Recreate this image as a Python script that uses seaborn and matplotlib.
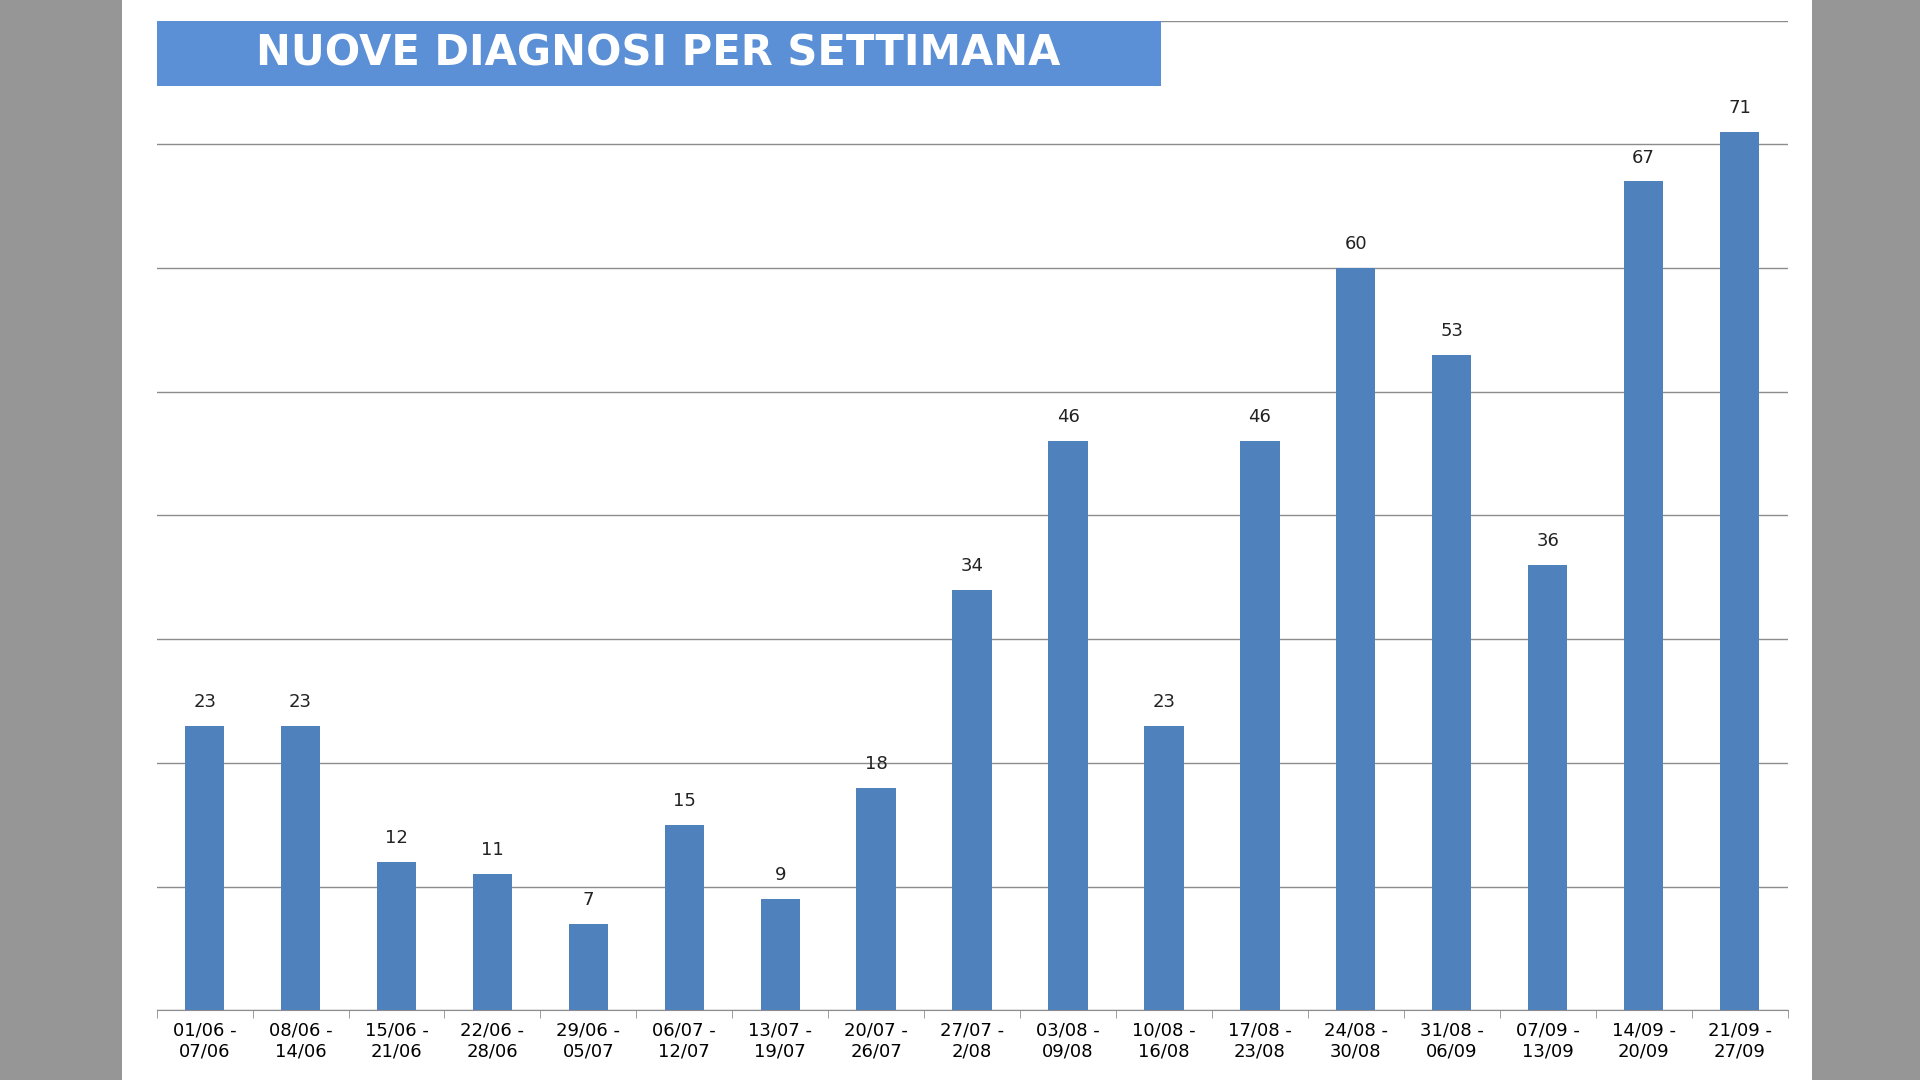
import matplotlib
matplotlib.use('Agg')
import matplotlib.pyplot as plt
import seaborn as sns
import pandas as pd
from matplotlib.patches import Rectangle

# dati settimanali
settimane = ['01/06 -\n07/06', '08/06 -\n14/06', '15/06 -\n21/06', '22/06 -\n28/06',
             '29/06 -\n05/07', '06/07 -\n12/07', '13/07 -\n19/07', '20/07 -\n26/07',
             '27/07 -\n2/08', '03/08 -\n09/08', '10/08 -\n16/08', '17/08 -\n23/08',
             '24/08 -\n30/08', '31/08 -\n06/09', '07/09 -\n13/09', '14/09 -\n20/09',
             '21/09 -\n27/09']
diagnosi = [23, 23, 12, 11, 7, 15, 9, 18, 34, 46, 23, 46, 60, 53, 36, 67, 71]

df = pd.DataFrame({'settimana': settimane, 'diagnosi': diagnosi})

fig = plt.figure(figsize=(19.2, 10.8), dpi=100)
fig.patch.set_facecolor('#969696')
# pannello bianco dietro al grafico
fig.patches.append(Rectangle((0.0638, 0), 0.8802, 1, transform=fig.transFigure,
                             facecolor='white', edgecolor='none', zorder=-5))

ax = fig.add_axes([0.0816, 0.0646, 0.8494, 0.9164])
ax.set_zorder(1)
ax.set_facecolor('none')
sns.barplot(data=df, x='settimana', y='diagnosi', color='#4F81BD', width=0.41,
            saturation=1, ax=ax, zorder=3)

# etichette sopra le barre
for i, v in enumerate(diagnosi):
    ax.text(i, v + 1.2, str(v), ha='center', va='bottom', fontsize=13, color='#222222')

ax.set_ylim(0, 80)
ax.set_yticks(range(0, 81, 10))
ax.set_yticklabels([])
ax.tick_params(axis='y', length=0)
ax.grid(axis='y', color='#8c8c8c', linewidth=1, zorder=0)
ax.set_axisbelow(True)
ax.set_xlim(-0.5, len(diagnosi) - 0.5)
ax.set_xlabel('')
ax.set_ylabel('')
ax.set_xticks([i - 0.5 for i in range(len(diagnosi) + 1)], minor=True)
ax.tick_params(axis='x', which='major', length=0, labelsize=13, pad=8)
ax.tick_params(axis='x', which='minor', length=6, color='#8c8c8c')
for s in ['top', 'left', 'right']:
    ax.spines[s].set_visible(False)
ax.spines['bottom'].set_color('#8c8c8c')

# riquadro del titolo
fig.patches.append(Rectangle((0.0816, 0.9206), 0.523, 0.0604, transform=fig.transFigure,
                             facecolor='#5B8FD6', edgecolor='none', zorder=5))
fig.text(0.343, 0.950, 'NUOVE DIAGNOSI PER SETTIMANA', ha='center', va='center',
         fontsize=30, fontweight='bold', color='white', zorder=6)

fig.savefig('out.png', dpi=100, facecolor=fig.get_facecolor())
